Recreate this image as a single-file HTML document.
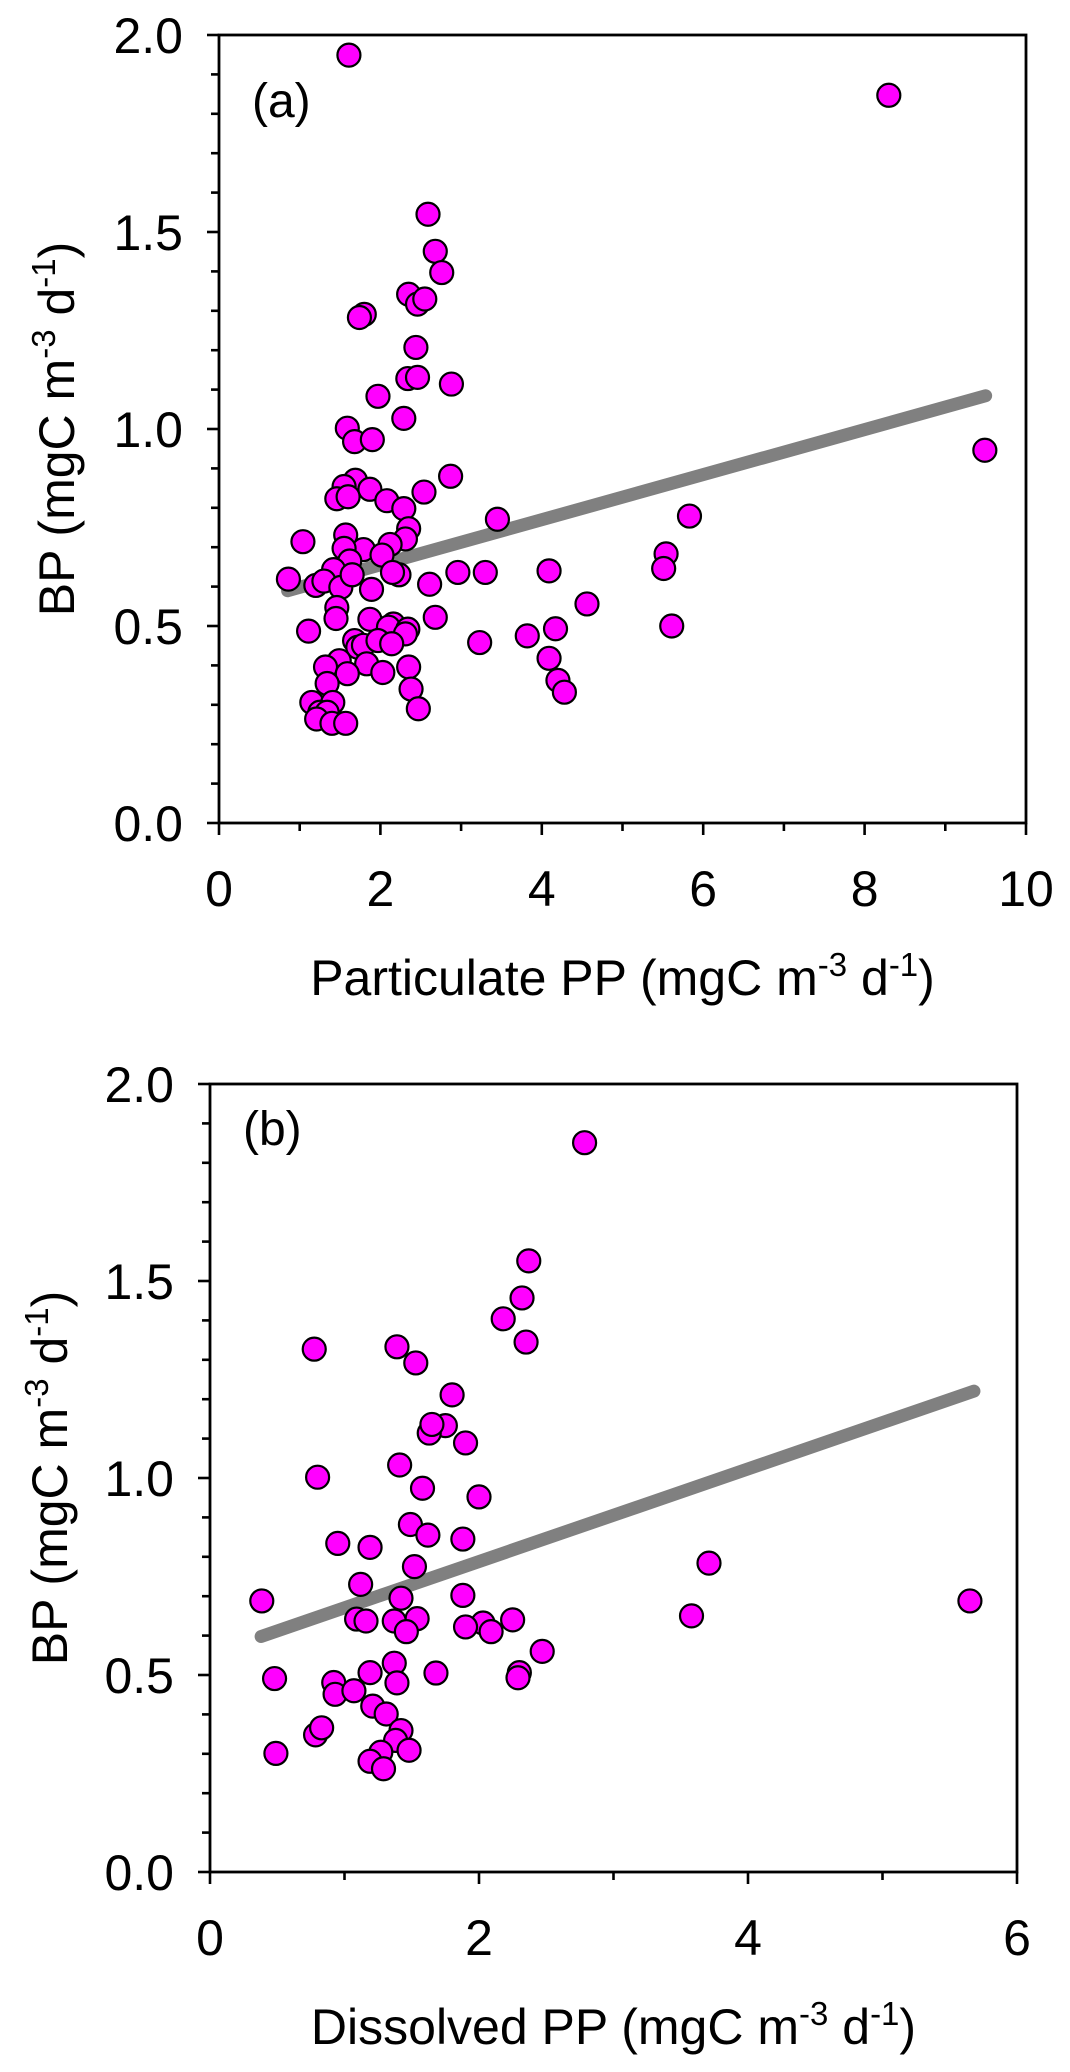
<!DOCTYPE html>
<html><head><meta charset="utf-8"><style>
html,body{margin:0;padding:0;background:#fff;}
svg{display:block;font-family:"Liberation Sans",Arial,sans-serif;}
</style></head><body>
<svg id="fig" width="1070" height="2072" viewBox="0 0 1070 2072" xmlns="http://www.w3.org/2000/svg"></svg>
<script>
// Panel (a) data: Particulate PP vs BP
const aX = [1.61,8.30,9.49,2.59,2.68,2.76,2.35,2.46,2.55,1.80,1.74,2.44,2.34,2.46,2.88,1.97,2.29,1.59,1.68,1.90,2.87,1.69,1.55,1.87,1.46,1.60,2.54,2.08,2.29,3.45,5.83,2.35,2.31,1.04,1.57,2.12,1.79,1.55,2.02,1.62,5.54,5.51,1.42,2.23,2.15,2.96,3.30,4.09,2.61,0.86,1.20,1.30,1.51,1.89,1.65,4.56,2.68,1.46,1.45,1.87,2.16,2.10,2.34,2.31,1.11,5.61,4.17,3.23,3.82,1.68,1.72,1.79,1.97,2.14,4.09,1.49,1.83,1.32,2.35,2.03,1.59,4.20,4.28,2.38,1.34,1.15,1.41,1.25,1.34,2.47,1.21,1.40,1.57];
const aY = [1.949,1.847,0.946,1.545,1.451,1.397,1.342,1.317,1.330,1.291,1.283,1.207,1.128,1.131,1.114,1.083,1.027,1.002,0.968,0.973,0.880,0.870,0.854,0.847,0.823,0.828,0.840,0.818,0.798,0.771,0.779,0.747,0.721,0.714,0.731,0.707,0.694,0.697,0.680,0.665,0.683,0.646,0.643,0.630,0.636,0.636,0.636,0.640,0.606,0.619,0.603,0.614,0.598,0.593,0.630,0.556,0.522,0.547,0.519,0.517,0.505,0.497,0.492,0.480,0.487,0.500,0.493,0.458,0.475,0.463,0.446,0.451,0.463,0.455,0.418,0.412,0.404,0.396,0.396,0.382,0.379,0.362,0.332,0.340,0.354,0.306,0.306,0.281,0.281,0.290,0.264,0.253,0.253];
const aFitX = [0.85, 9.5];
const aSlope = 0.0572, aIntercept = 0.541;
const aXTicks = [0,2,4,6,8,10];
const aXTickLabels = ["0","2","4","6","8","10"];
// Panel (b) data: Dissolved PP vs BP
const bX = [2.785,2.37,2.32,2.18,2.35,0.775,1.39,1.53,1.80,1.75,1.63,1.65,1.90,1.41,0.80,1.58,2.00,1.49,1.62,1.88,0.95,1.19,1.52,3.71,1.12,1.42,1.88,0.385,5.65,1.09,1.16,1.37,1.54,2.25,2.03,3.58,1.90,2.09,1.46,2.47,1.37,1.19,1.68,2.30,2.29,0.48,1.39,0.92,0.93,1.07,1.21,1.31,0.785,0.83,1.42,1.38,1.48,0.49,1.27,1.19,1.29];
const bY = [1.851,1.551,1.457,1.404,1.345,1.327,1.333,1.292,1.211,1.133,1.114,1.136,1.089,1.033,1.002,0.974,0.952,0.882,0.855,0.845,0.834,0.824,0.775,0.784,0.730,0.695,0.702,0.688,0.688,0.642,0.637,0.637,0.643,0.640,0.632,0.650,0.622,0.610,0.610,0.560,0.530,0.506,0.505,0.506,0.493,0.491,0.480,0.481,0.451,0.460,0.421,0.401,0.348,0.366,0.359,0.334,0.309,0.301,0.304,0.281,0.262];
const bFitX = [0.38, 5.68];
const bSlope = 0.1175, bIntercept = 0.553;
const bXTicks = [0,2,4,6];
const bXTickLabels = ["0","2","4","6"];
const yTicks = [0,0.5,1,1.5,2];
const yTickLabels = ["0.0","0.5","1.0","1.5","2.0"];

const NS = "http://www.w3.org/2000/svg";
const svg = document.getElementById('fig');
function mk(tag, attrs, parent){ const e=document.createElementNS(NS,tag); for(const k in attrs) e.setAttribute(k,attrs[k]); (parent||svg).appendChild(e); return e; }
const SUP = '(mgC m<tspan dy="-19" font-size="33">-3</tspan><tspan dy="19"> d</tspan><tspan dy="-19" font-size="33">-1</tspan><tspan dy="19">)</tspan>';

function panel(cfg){
  const g = mk('g',{});
  
  
  const L=cfg.left,R=cfg.right,T=cfg.top,B=cfg.bottom;
  const sx = v => L + (v - cfg.xmin)/(cfg.xmax-cfg.xmin)*(R-L);
  const sy = v => B - (v - 0)/(2-0)*(B-T);
  for(let i=0;i<=20;i++){
    const v=i/10, y=sy(v), major = i%5===0;
    const t = mk('line',{x1:L-(major?12:8),x2:L,y1:y,y2:y,stroke:'#000','stroke-width':2.6},g);
    
    
  }
  for(let v=cfg.xmin; v<=cfg.xmax+1e-9; v+=cfg.xminor){
    const major = Math.abs((v/cfg.xmajor)-Math.round(v/cfg.xmajor))<1e-6;
    const x=sx(v);
    const t = mk('line',{x1:x,x2:x,y1:B,y2:B+(major?12:8),stroke:'#000','stroke-width':2.6},g);
    
    
  }
  yTicks.forEach((v,i)=>{
    const t = mk('text',{x:L-36,y:sy(v)+18,'text-anchor':'end','font-size':50},g);
    t.textContent = yTickLabels[i];
    
    
  });
  cfg.xticks.forEach((v,i)=>{
    const t = mk('text',{x:sx(v),y:B+83,'text-anchor':'middle','font-size':50},g);
    t.textContent = cfg.xlabels[i];
    
    
  });
  const fl = mk('line',{x1:sx(cfg.fitX[0]),y1:sy(cfg.slope*cfg.fitX[0]+cfg.intercept),x2:sx(cfg.fitX[1]),y2:sy(cfg.slope*cfg.fitX[1]+cfg.intercept),stroke:'#808080','stroke-width':13,'stroke-linecap':'round'},g);
  
  
  cfg.xs.forEach((xv,i)=>{
    const c = mk('circle',{cx:sx(xv),cy:sy(cfg.ys[i]),r:11.5,fill:'#ff00ff',stroke:'#000','stroke-width':2.2},g);
    
    
  });
  const fr = mk('rect',{x:L,y:T,width:R-L,height:B-T,fill:'none',stroke:'#000','stroke-width':2.8},g);
  
  
  const pl = mk('text',{x:L+33,y:T+cfg.labelDy,'font-size':48},g);
  pl.textContent = cfg.label;
  
  
  const xt = mk('text',{x:(L+R)/2,y:B+172,'text-anchor':'middle','font-size':50},g);
  xt.innerHTML = cfg.xtitle + ' ' + SUP;
  
  
  const yc=(T+B)/2, yx=cfg.ytitleX;
  const yt = mk('text',{x:yx,y:yc,'text-anchor':'middle','font-size':50,transform:`rotate(-90 ${yx} ${yc})`},g);
  yt.innerHTML = 'BP ' + SUP;
  
  
}
panel({name:'panel-a',left:219,right:1026,top:35,bottom:823,xmin:0,xmax:10,xmajor:2,xminor:1,xticks:aXTicks,xlabels:aXTickLabels,xs:aX,ys:aY,fitX:aFitX,slope:aSlope,intercept:aIntercept,label:'(a)',labelDy:82,xtitle:'Particulate PP',ytitleX:74});
panel({name:'panel-b',left:210,right:1017,top:1084,bottom:1872,xmin:0,xmax:6,xmajor:2,xminor:1,xticks:bXTicks,xlabels:bXTickLabels,xs:bX,ys:bY,fitX:bFitX,slope:bSlope,intercept:bIntercept,label:'(b)',labelDy:61,xtitle:'Dissolved PP',ytitleX:67});
</script>
</body></html>
